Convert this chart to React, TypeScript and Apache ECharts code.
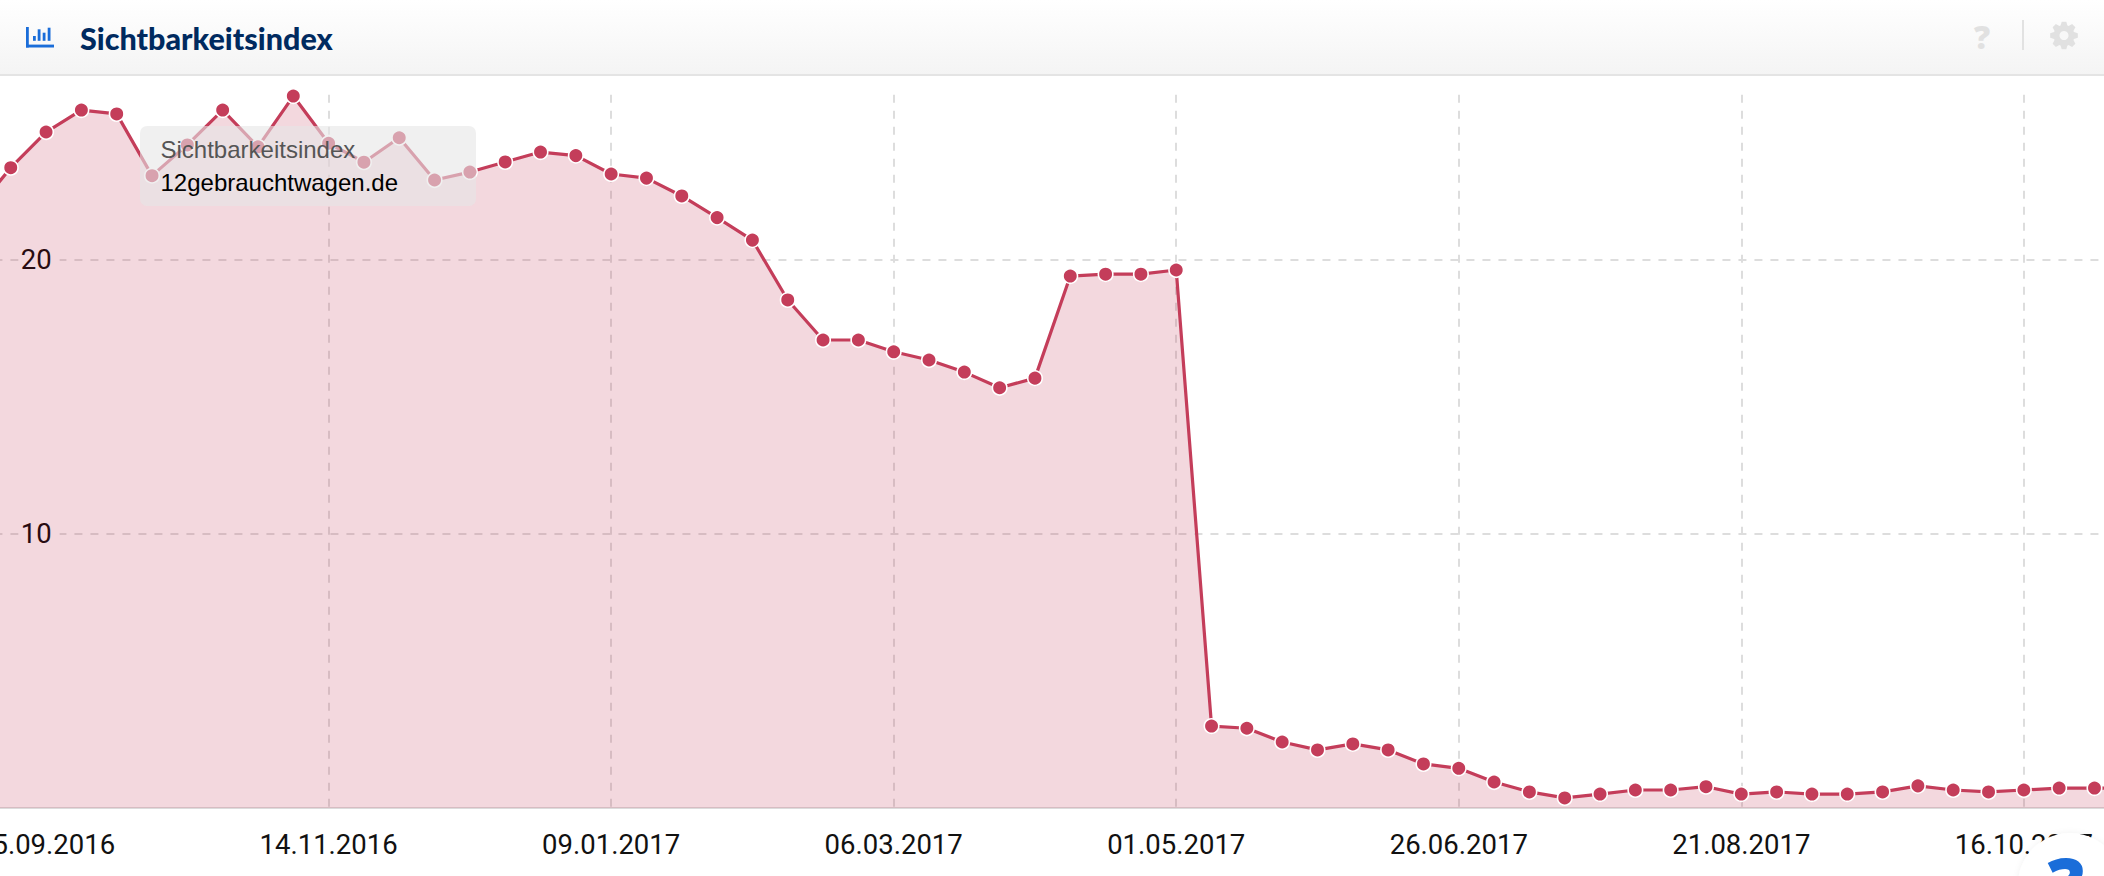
import React, { useEffect, useRef } from "react";
import * as echarts from "echarts";

const CATEGORIES = [
  "05.09.2016","12.09.2016","15.09.2016","26.09.2016","03.10.2016","10.10.2016","17.10.2016","24.10.2016","31.10.2016","07.11.2016",
  "14.11.2016","21.11.2016","28.11.2016","05.12.2016","12.12.2016","19.12.2016","26.12.2016","02.01.2017","09.01.2017","16.01.2017",
  "23.01.2017","30.01.2017","06.02.2017","13.02.2017","20.02.2017","27.02.2017","06.03.2017","13.03.2017","20.03.2017","27.03.2017",
  "03.04.2017","10.04.2017","17.04.2017","24.04.2017","01.05.2017","08.05.2017","15.05.2017","22.05.2017","29.05.2017","05.06.2017",
  "12.06.2017","19.06.2017","26.06.2017","03.07.2017","10.07.2017","17.07.2017","24.07.2017","31.07.2017","07.08.2017","14.08.2017",
  "21.08.2017","28.08.2017","04.09.2017","11.09.2017","18.09.2017","25.09.2017","02.10.2017","09.10.2017","16.10.2017","23.10.2017",
  "30.10.2017","06.11.2017",
];
const TICK_LABELS = [
  "15.09.2016","14.11.2016","09.01.2017","06.03.2017","01.05.2017","26.06.2017","21.08.2017","16.10.2017",
];
const GRID_DATES = TICK_LABELS.slice(1);
const VALUES = [
  21.76,23.34,24.64,25.44,25.30,23.05,24.17,25.44,24.10,25.95,
  24.23,23.54,24.43,22.89,23.18,23.55,23.91,23.78,23.11,22.96,
  22.31,21.52,20.70,18.52,17.06,17.06,16.63,16.33,15.89,15.32,
  15.67,19.39,19.46,19.46,19.61,2.99,2.91,2.41,2.12,2.34,
  2.12,1.61,1.45,0.95,0.59,0.37,0.51,0.66,0.66,0.78,
  0.51,0.59,0.51,0.51,0.59,0.81,0.66,0.59,0.66,0.73,
  0.73,0.73,
];
const TITLE = "Sichtbarkeitsindex";
const DOMAIN = "12gebrauchtwagen.de";

const RED = "#c43d5a";
const BLUE = "#1a6dd9";
const ICON_GREY = "#e1e1e1";
const BLEED = 26;
const showTick = (_: number, v: string) => TICK_LABELS.includes(v);
const showGrid = (_: number, v: string) => GRID_DATES.includes(v);

function gearPoints(cx: number, cy: number) {
  const pts: number[][] = [];
  const teeth = 8;
  for (let i = 0; i < teeth; i++) {
    const a = (i / teeth) * Math.PI * 2 - Math.PI / 2;
    const w = Math.PI / teeth;
    [[-w * 0.85, 10.5], [-w * 0.42, 14], [w * 0.42, 14], [w * 0.85, 10.5]].forEach(([d, r]) => {
      pts.push([cx + Math.cos(a + d) * r, cy + Math.sin(a + d) * r]);
    });
  }
  return pts;
}

export default function App() {
  const ref = useRef<HTMLDivElement>(null);
  useEffect(() => {
    document.body.style.margin = "0";
    const chart = echarts.init(ref.current!, undefined, { renderer: "svg" });
    chart.setOption({
      animation: false,
      backgroundColor: "#fff",
      grid: { left: 0.7, right: 0.2, top: 94.7, bottom: 67.9, containLabel: false },
      xAxis: {
        type: "category",
        data: CATEGORIES,
        boundaryGap: false,
        offset: 1,
        axisLine: { show: true, lineStyle: { color: "#dcdcdc", width: 2 } },
        axisTick: { show: false },
        axisLabel: {
          interval: showTick,
          color: "#111",
          fontFamily: "Roboto",
          fontSize: 27.5,
          margin: 21.5,
        },
        splitLine: {
          show: true,
          interval: showGrid,
          lineStyle: { color: "#dddddd", width: 2, type: [8, 8] },
        },
      },
      yAxis: {
        type: "value",
        min: 0,
        max: 26,
        interval: 10,
        axisLine: { show: false },
        axisTick: { show: false },
        axisLabel: {
          inside: true,
          margin: 43.3,
          color: "#000",
          fontFamily: "Roboto",
          fontSize: 27.5,
          showMaxLabel: false,
          showMinLabel: false,
          backgroundColor: "#fff",
          padding: [0, 8, 0, 2],
        },
        splitLine: {
          show: true,
          showMinLine: false,
          showMaxLine: false,
          lineStyle: { color: "#dddddd", width: 2, type: [8, 8], dashOffset: 12.7 },
        },
      },
      series: [
        {
          type: "line",
          data: VALUES,
          symbol: "circle",
          symbolSize: 14.5,
          showAllSymbol: true,
          lineStyle: { color: RED, width: 3.2 },
          itemStyle: { color: RED, borderColor: "#fff", borderWidth: 1.6 },
          areaStyle: { color: RED, opacity: 0.2 },
        },
      ],
      graphic: [
        {
          type: "group",
          x: BLEED,
          y: 0,
          children: [
            {
              type: "rect",
              z: 50,
              shape: { x: -BLEED, y: 0, width: 2104 + 2 * BLEED, height: 75 },
              style: {
                fill: new echarts.graphic.LinearGradient(0, 0, 0, 1, [
                  { offset: 0, color: "#ffffff" },
                  { offset: 1, color: "#f4f4f4" },
                ]),
              },
            },
            { type: "rect", z: 51, shape: { x: -BLEED, y: 74, width: 2104 + 2 * BLEED, height: 2 }, style: { fill: "#e4e4e4" } },
            { type: "rect", z: 51, shape: { x: 26, y: 27, width: 2.8, height: 20.5 }, style: { fill: BLUE } },
            { type: "rect", z: 51, shape: { x: 26, y: 44.6, width: 28, height: 2.9 }, style: { fill: BLUE } },
            { type: "rect", z: 51, shape: { x: 33, y: 36, width: 2.8, height: 4.8 }, style: { fill: BLUE } },
            { type: "rect", z: 51, shape: { x: 37.7, y: 29.3, width: 2.8, height: 11.5 }, style: { fill: BLUE } },
            { type: "rect", z: 51, shape: { x: 42.7, y: 32.7, width: 2.8, height: 8.1 }, style: { fill: BLUE } },
            { type: "rect", z: 51, shape: { x: 47.7, y: 27.7, width: 2.8, height: 13.1 }, style: { fill: BLUE } },
            {
              type: "text",
              z: 51,
              style: {
                text: TITLE,
                x: 80,
                y: 38,
                verticalAlign: "middle",
                fill: "#002a5f",
                fontFamily: "Lato",
                fontWeight: 900,
                fontSize: 30.5,
              },
            },
            {
              type: "text",
              z: 51,
              style: {
                text: "?",
                x: 1982,
                y: 36,
                align: "center",
                verticalAlign: "middle",
                fill: ICON_GREY,
                fontFamily: "Open Sans",
                fontWeight: 800,
                fontSize: 32,
              },
            },
            { type: "rect", z: 51, shape: { x: 2022, y: 20, width: 2, height: 30 }, style: { fill: "#e2e2e2" } },
            { type: "polygon", z: 51, shape: { points: gearPoints(2064, 35.5) }, style: { fill: ICON_GREY } },
            { type: "circle", z: 52, shape: { cx: 2064, cy: 35.5, r: 4.5 }, style: { fill: "#f8f8f8" } },
            {
              type: "rect",
              z: 60,
              shape: { x: 140, y: 126, width: 336, height: 80, r: 7 },
              style: { fill: "rgba(230,230,230,0.6)" },
            },
            {
              type: "text",
              z: 61,
              style: {
                text: TITLE,
                x: 160.5,
                y: 149,
                verticalAlign: "middle",
                fill: "#555555",
                fontFamily: "Liberation Sans",
                fontSize: 24,
              },
            },
            {
              type: "text",
              z: 61,
              style: {
                text: DOMAIN,
                x: 160.5,
                y: 182,
                verticalAlign: "middle",
                fill: "#000000",
                fontFamily: "Liberation Sans",
                fontSize: 24,
              },
            },
            {
              type: "circle",
              z: 70,
              shape: { cx: 2070, cy: 885, r: 52 },
              style: { fill: "#ffffff", shadowBlur: 6, shadowColor: "rgba(0,0,0,0.06)" },
            },
            {
              type: "text",
              z: 71,
              style: {
                text: "?",
                x: 2066,
                y: 883,
                align: "center",
                verticalAlign: "middle",
                fill: BLUE,
                fontFamily: "Open Sans",
                fontWeight: 800,
                fontSize: 72,
              },
            },
          ],
        },
      ],
    });
    return () => chart.dispose();
  }, []);
  return (
    <div style={{ position: "relative", width: 2104, height: 876, overflow: "hidden" }}>
      <div
        ref={ref}
        style={{ position: "absolute", left: -BLEED, top: 0, width: 2104 + 2 * BLEED, height: 876 }}
      />
    </div>
  );
}
